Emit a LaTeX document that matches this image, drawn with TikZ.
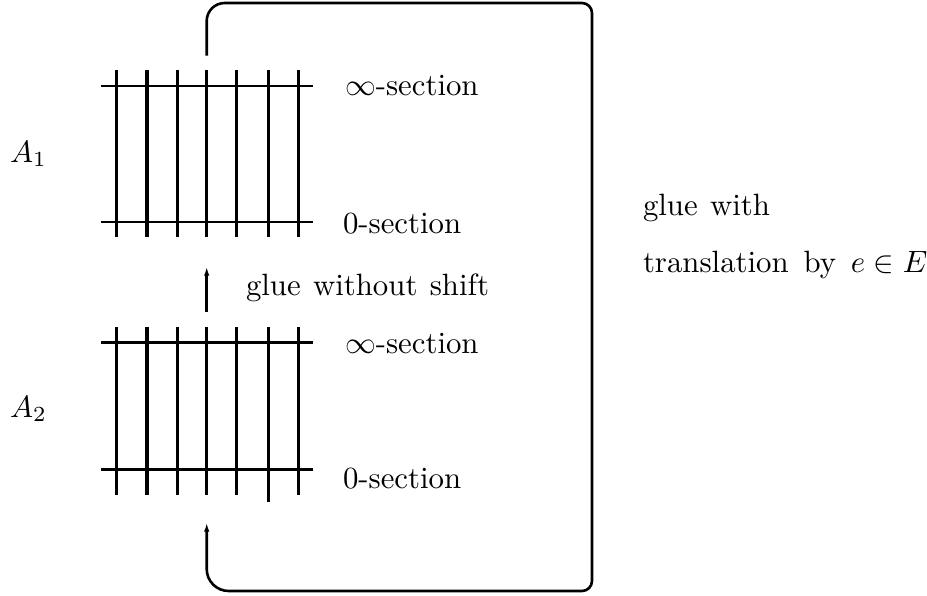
\documentclass[tikz,border=0pt]{standalone}
\usetikzlibrary{arrows.meta}
\newcommand{\bigtxt}[1]{\scalebox{3.08}{#1}}
\newcommand{\widetxt}[2]{\scalebox{3.08}{\spaceskip=#1pt plus 1pt #2}}
\tikzset{
  grid/.style={line width=2.6pt},
  thickv/.style={line width=3.6pt},
  frame/.style={line width=2.6pt},
  lbl/.style={anchor=base west, inner sep=0pt, outer sep=0pt},
  tip/.style={-{Latex[length=9pt,width=5.5pt]}}
}
\begin{document}
\begin{tikzpicture}[x=1pt,y=-1pt]
\useasboundingbox (0,0) rectangle (927,595);
% upper grid A1
\foreach \yy in {86,222} \draw[grid] (101,\yy) -- (313,\yy);
\foreach \xx in {116.7,177.3,206.7,236.7,268.3,298.3} \draw[grid] (\xx,70) -- (\xx,237);
\draw[thickv] (146.7,70) -- (146.7,237);
% lower grid A2
\foreach \yy in {342.7,469.3} \draw[grid] (101,\yy) -- (313,\yy);
\foreach \xx in {116.7,177.3,206.7,236.7,298.3} \draw[grid] (\xx,327) -- (\xx,495);
\draw[grid] (268.3,327) -- (268.3,502);
\draw[thickv] (146.7,327) -- (146.7,495);
% labels
\node[lbl] (a1) at (10,162) {\bigtxt{$A_1$}};
\node[lbl] (a2) at (10,417) {\bigtxt{$A_2$}};
\node[lbl] (inf1) at (345,95) {\bigtxt{$\infty$-section}};
\node[lbl] (zero1) at (343,233) {\bigtxt{0-section}};
\node[lbl] (inf2) at (345,353) {\bigtxt{$\infty$-section}};
\node[lbl] (zero2) at (343,488) {\bigtxt{0-section}};
\node[lbl] (gws) at (246,295) {\widetxt{4}{glue without shift}};
\node[lbl] (gw) at (643,215) {\widetxt{4}{glue with}};
\node[lbl] (tr) at (643,272) {\widetxt{4.8}{translation by $e\in E$}};
% connectors
\coordinate (s1) at (206.7,312);
\coordinate (t1) at (206.7,266.7);
\draw[grid,tip] (s1) -- (t1);
\coordinate (ls) at (206.7,55.7);
\coordinate (tl) at (206.7,3);
\coordinate (tr2) at (592,3);
\coordinate (br) at (592,591);
\coordinate (bl) at (206.7,591);
\coordinate (le) at (206.7,522.7);
\draw[frame,tip] (ls) [rounded corners=18pt] -- (tl) [rounded corners=10pt] -- (tr2) -- (br) [rounded corners=22pt] -- (bl) [sharp corners] -- (le);
\end{tikzpicture}
\end{document}
